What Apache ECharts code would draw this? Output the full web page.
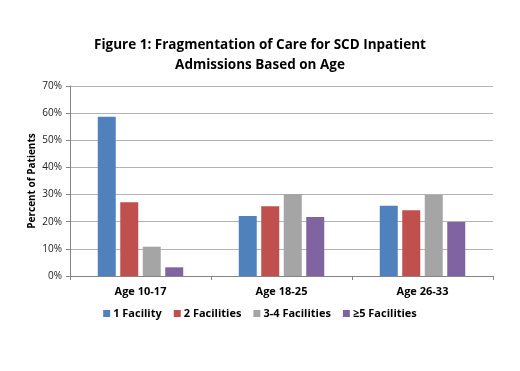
<!DOCTYPE html>
<html>
<head>
<meta charset="utf-8">
<script src="https://cdn.jsdelivr.net/npm/echarts@6/dist/echarts.min.js"></script>
<style>
    html, body { margin: 0; padding: 0; background: #fff; }
    #chart { width: 520px; height: 371px; }
</style>
</head>
<body>
<div id="chart"></div>
<script>
// 年龄组
const ageGroups = ['Age 10-17', 'Age 18-25', 'Age 26-33']
// 各系列（百分比）
const oneFacility = [58.7, 22.1, 25.9]
const twoFacilities = [27.2, 25.7, 24.2]
const threeFourFacilities = [10.8, 30.2, 29.8]
const fivePlusFacilities = [3.2, 21.7, 19.9]
const seriesNames = ['1 Facility', '2 Facilities', '3-4 Facilities', '≥5 Facilities']
const seriesColors = ['#4F81BD', '#C0504D', '#A5A5A5', '#8064A2']

const font = 'Open Sans, sans-serif'
const chart = echarts.init(document.getElementById('chart'))

function makeSeries(name, data, color) {
    return {
        name: name,
        type: 'bar',
        data: data,
        barWidth: 18,
        barGap: '25%',
        itemStyle: { color: color }
    }
}

const option = {
    backgroundColor: '#fff',
    animation: false,
    title: {
        text: 'Figure 1: Fragmentation of Care for SCD Inpatient\nAdmissions Based on Age',
        left: 'center',
        top: 30,
        textStyle: {
            fontFamily: font,
            fontSize: 13.5,
            fontWeight: 'bold',
            color: '#000',
            lineHeight: 20
        }
    },
    legend: {
        data: seriesNames,
        bottom: 47,
        left: 'center',
        itemWidth: 7,
        itemHeight: 7,
        itemGap: 12,
        icon: 'rect',
        textStyle: { fontFamily: font, fontSize: 11, fontWeight: 'bold', color: '#000', padding: [0, 0, 0, -2] }
    },
    grid: { left: 70, right: 27, top: 86, bottom: 95 },
    xAxis: {
        type: 'category',
        data: ageGroups,
        axisLine: { lineStyle: { color: '#868686' } },
        axisTick: { show: true, length: 4, lineStyle: { color: '#868686' } },
        axisLabel: { fontFamily: font, fontSize: 11, fontWeight: 'bold', color: '#000', margin: 10 }
    },
    yAxis: {
        type: 'value',
        min: 0,
        max: 70,
        interval: 10,
        name: 'Percent of Patients',
        nameLocation: 'middle',
        nameGap: 33,
        nameMoveOverlap: false,
        nameTextStyle: { fontFamily: font, fontSize: 10, fontWeight: 'bold', color: '#000' },
        axisLine: { show: true, lineStyle: { color: '#868686' } },
        axisTick: { show: true, length: 4, lineStyle: { color: '#868686' } },
        axisLabel: { fontFamily: font, fontSize: 10, color: '#222', formatter: '{value}%', margin: 8 },
        splitLine: { lineStyle: { color: '#b3b3b3', width: 1 } }
    },
    series: [
        makeSeries(seriesNames[0], oneFacility, seriesColors[0]),
        makeSeries(seriesNames[1], twoFacilities, seriesColors[1]),
        makeSeries(seriesNames[2], threeFourFacilities, seriesColors[2]),
        makeSeries(seriesNames[3], fivePlusFacilities, seriesColors[3])
    ]
}
chart.setOption(option)
</script>
</body>
</html>
